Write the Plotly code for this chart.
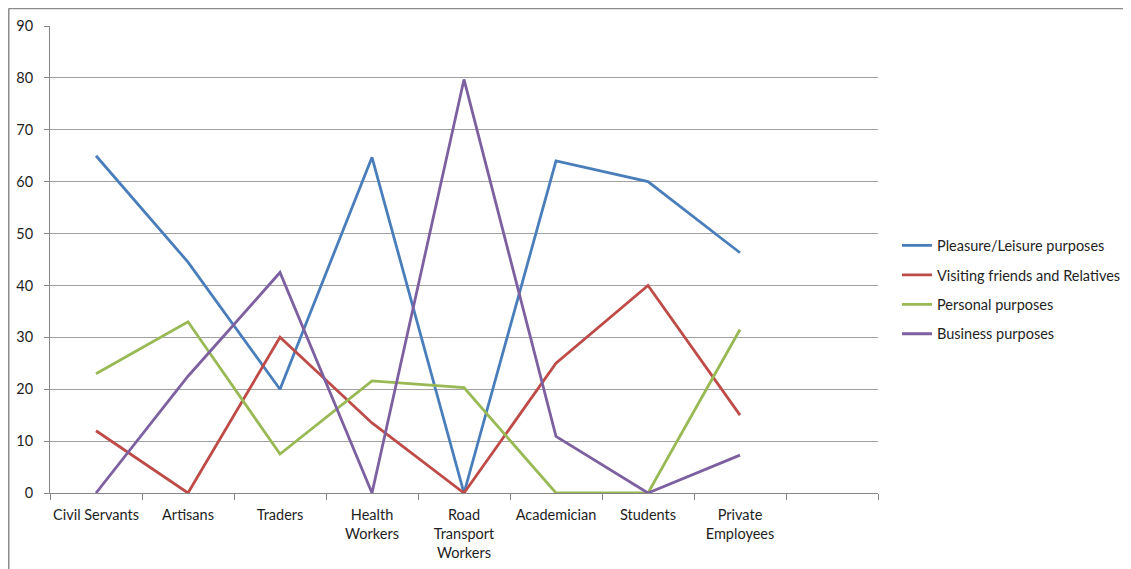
import plotly.graph_objects as go

categories = ["Civil Servants", "Artisans", "Traders", "Health<br>Workers",
              "Road<br>Transport<br>Workers", "Academician", "Students",
              "Private<br>Employees"]
axis_categories = categories + [" "]

pleasure = [65, 44.5, 20, 64.7, 0, 64, 60, 46.3]
visiting = [12, 0, 30, 13.5, 0, 25, 40, 15]
personal = [23, 33, 7.5, 21.6, 20.3, 0, 0, 31.5]
business = [0, 22.5, 42.5, 0, 79.7, 10.9, 0, 7.3]

series_names = ["Pleasure/Leisure purposes", "Visiting friends and Relatives",
                "Personal purposes", "Business purposes"]
series_values = [pleasure, visiting, personal, business]
colors = ["#4A7EBB", "#BE4B48", "#98B954", "#7D60A0"]

y_ticks = list(range(0, 91, 10))

fig = go.Figure()
for i, (name, vals, col) in enumerate(zip(series_names, series_values, colors)):
    fig.add_trace(go.Scatter(
        x=categories, y=vals, name=name, mode="lines",
        line=dict(color=col, width=2.8),
        legendgroup=f"g{i}",
    ))

PW, PH = 828, 467  # plot area size in px
fig.update_layout(
    width=1131, height=569,
    margin=dict(l=42, r=261, t=18, b=84),
    paper_bgcolor="white", plot_bgcolor="white",
    font=dict(family="Lato, Open Sans, sans-serif", size=14.5, color="#1e1e1e"),
    showlegend=True,
    legend=dict(x=(897 - 50) / PW, y=(493 - 290) / PH, xanchor="left", yanchor="middle",
                traceorder="grouped", tracegroupgap=7.6,
                font=dict(size=14.5, color="#1e1e1e"),
                itemwidth=30),
    xaxis=dict(type="category", categoryorder="array", categoryarray=axis_categories,
               range=[-0.5, 8.5], tickson="boundaries", ticks="outside", ticklen=6,
               tickcolor="#868686", showgrid=False, showline=True,
               linecolor="#868686", linewidth=1, tickangle=0,
               ticklabelstandoff=9, automargin=False),
    yaxis=dict(range=[0, 90], tickvals=y_ticks, ticks="outside", ticklen=5,
               tickcolor="#868686", showgrid=True, gridcolor="#A0A0A0", gridwidth=1,
               showline=True, linecolor="#868686", linewidth=1, zeroline=False,
               ticklabelstandoff=8, automargin=False),
    shapes=[
        dict(type="line", xref="paper", yref="paper", x0=(0.5 - 42) / PW, x1=1.4,
             y0=1 + 17.5 / PH, y1=1 + 17.5 / PH,
             line=dict(color="#8C8C8C", width=1.5)),
        dict(type="line", xref="paper", yref="paper", x0=(0.75 - 42) / PW, x1=(0.75 - 42) / PW,
             y0=1 + 17.5 / PH, y1=-0.3,
             line=dict(color="#8C8C8C", width=1.5)),
    ],
)

fig.write_html("out.html")
